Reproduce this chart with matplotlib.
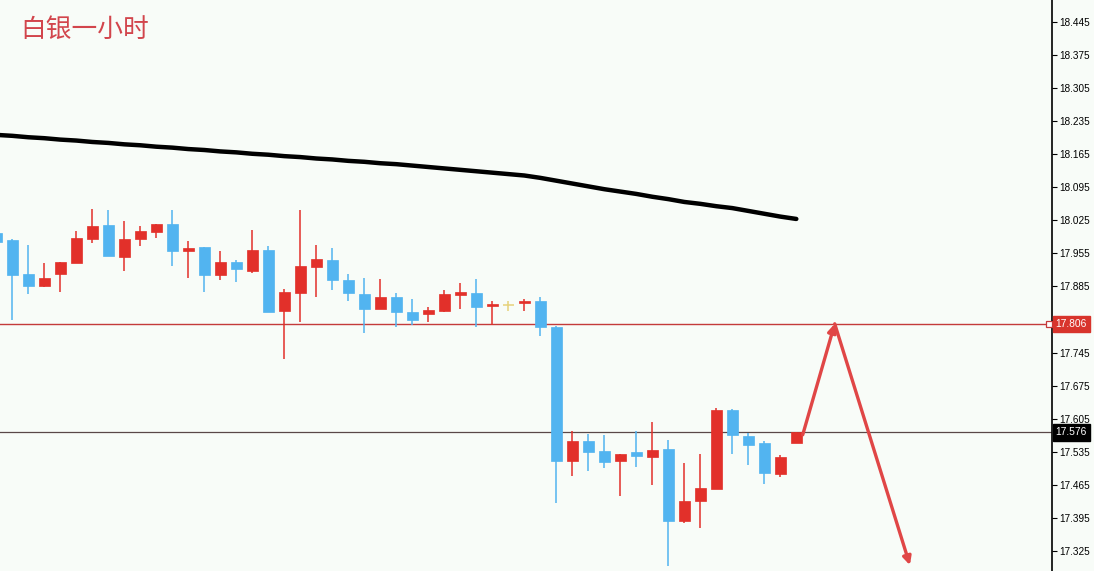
#!/usr/bin/env python3
"""
Silver 1h candles with MA, key levels and a forecast path.
"""
import numpy as np
import matplotlib.pyplot as plt
from matplotlib.patches import FancyArrowPatch
from matplotlib.transforms import blended_transform_factory

plt.rcParams['font.family'] = ['Noto Sans CJK SC', 'DejaVu Sans']

TITLE = "白银一小时"

# OHLC per hourly bar (index 0 is partly cut off on the left)
opens = [17.999, 17.983, 17.911, 17.885, 17.912, 17.935, 17.986, 18.016, 17.947, 17.986,
         18.001, 18.017, 17.960, 17.969, 17.910, 17.937, 17.918, 17.962, 17.834, 17.872,
         17.927, 17.941, 17.899, 17.869, 17.837, 17.863, 17.830, 17.827, 17.834, 17.866,
         17.871, 17.843, 17.845, 17.849, 17.855, 17.799, 17.516, 17.558, 17.537, 17.516,
         17.535, 17.525, 17.541, 17.389, 17.431, 17.456, 17.624, 17.568, 17.553, 17.487,
         17.554]
highs = [18.001, 17.986, 17.973, 17.935, 17.937, 18.003, 18.049, 18.046, 18.024, 18.013,
         18.017, 18.047, 17.981, 17.969, 17.961, 17.941, 18.005, 17.971, 17.879, 18.048,
         17.973, 17.966, 17.911, 17.904, 17.901, 17.871, 17.859, 17.841, 17.878, 17.893,
         17.901, 17.855, 17.854, 17.858, 17.862, 17.801, 17.579, 17.573, 17.571, 17.531,
         17.579, 17.599, 17.560, 17.512, 17.530, 17.627, 17.626, 17.575, 17.558, 17.528,
         17.576]
lows = [17.978, 17.813, 17.869, 17.883, 17.874, 17.934, 17.978, 17.950, 17.918, 17.971,
        17.988, 17.929, 17.902, 17.874, 17.899, 17.895, 17.913, 17.832, 17.731, 17.810,
        17.863, 17.878, 17.854, 17.786, 17.837, 17.799, 17.803, 17.810, 17.830, 17.837,
        17.800, 17.804, 17.834, 17.834, 17.781, 17.426, 17.484, 17.494, 17.501, 17.442,
        17.503, 17.465, 17.293, 17.385, 17.374, 17.456, 17.530, 17.506, 17.467, 17.482,
        17.554]
closes = [17.980, 17.910, 17.885, 17.902, 17.937, 17.988, 18.013, 17.950, 17.986, 18.003,
          18.017, 17.961, 17.967, 17.910, 17.937, 17.921, 17.962, 17.832, 17.873, 17.928,
          17.943, 17.899, 17.872, 17.838, 17.863, 17.832, 17.813, 17.835, 17.869, 17.873,
          17.842, 17.848, 17.845, 17.855, 17.799, 17.516, 17.558, 17.535, 17.514, 17.531,
          17.527, 17.539, 17.389, 17.431, 17.458, 17.624, 17.570, 17.550, 17.490, 17.524,
          17.576]

# moving average (black line)
ma = [18.206, 18.204, 18.201, 18.199, 18.196, 18.194, 18.191, 18.189, 18.186, 18.184,
      18.181, 18.179, 18.176, 18.174, 18.171, 18.169, 18.166, 18.164, 18.161, 18.159,
      18.156, 18.154, 18.151, 18.149, 18.146, 18.144, 18.141, 18.138, 18.135, 18.132,
      18.129, 18.126, 18.123, 18.120, 18.115, 18.109, 18.103, 18.097, 18.091, 18.086,
      18.081, 18.075, 18.070, 18.064, 18.060, 18.055, 18.051, 18.045, 18.039, 18.033,
      18.028]

resistance = 17.806
last_price = 17.576
yticks = [18.445, 18.375, 18.305, 18.235, 18.165, 18.095, 18.025, 17.955, 17.885,
          17.815, 17.745, 17.675, 17.605, 17.535, 17.465, 17.395, 17.325]

# forecast path drawn with arrows (bar index, price)
path_x = [50.4, 52.4, 57.1]
path_y = [17.571, 17.806, 17.295]

UP = "#e2302a"
DOWN = "#52b4f0"
DOJI = "#e6d27a"
BG = "#f8fcf8"
DOJI_BAR = 32

fig = plt.figure(figsize=(10.94, 5.71), dpi=100, facecolor=BG)
ax = fig.add_axes([0, 0, 1052 / 1094, 1])
ax.set_facecolor(BG)

x = np.arange(len(opens))
o, h, l, c = map(np.array, (opens, highs, lows, closes))
cols = [UP if cc >= oo else DOWN for oo, cc in zip(o, c)]
cols[DOJI_BAR] = DOJI

ax.vlines(x, l, h, colors=cols, linewidth=1.1, zorder=3)
body_lo = np.minimum(o, c)
body_h = np.maximum(np.abs(c - o), 0.0012)
for i in range(len(x)):
    if i == DOJI_BAR:
        ax.hlines(o[i], x[i] - 0.33, x[i] + 0.33, colors=DOJI, linewidth=1.1, zorder=3)
        continue
    ax.bar(x[i], body_h[i], bottom=body_lo[i], width=0.66, color=cols[i],
           edgecolor=cols[i], linewidth=0.5, zorder=4)

ax.plot(x, ma, color="black", linewidth=3.2, solid_capstyle="round", zorder=5)

ax.axhline(resistance, color="#c43a3a", linewidth=1.0, zorder=2)
ax.axhline(last_price, color="#5a4848", linewidth=0.9, zorder=2)

for i in range(len(path_x) - 1):
    ax.add_patch(FancyArrowPatch((path_x[i], path_y[i]), (path_x[i + 1], path_y[i + 1]),
                                 arrowstyle="-|>", mutation_scale=12, color="#e04646",
                                 linewidth=2.4, shrinkA=0, shrinkB=0, zorder=6))

ax.set_xlim(0.23, 65.98)
ax.set_ylim(17.2826, 18.4916)

# the 17.815 label sits under the 17.806 price box, so only its tick is drawn
ax.yaxis.tick_right()
ax.set_yticks(yticks)
ax.set_yticklabels(["" if abs(v - 17.815) < 1e-6 else f"{v:.3f}" for v in yticks])
ax.tick_params(axis="y", direction="out", length=3.5, width=0.8, pad=1.5,
               labelsize=7.2, colors="black")
for lab in ax.get_yticklabels():
    lab.set_family("Liberation Sans")
ax.set_xticks([])
for side in ("top", "left", "bottom"):
    ax.spines[side].set_visible(False)
ax.spines["right"].set_linewidth(1.2)

tr = blended_transform_factory(ax.transAxes, ax.transData)
ax.plot([0.997], [resistance], marker="s", markersize=4, markerfacecolor="white",
        markeredgecolor="#c43a3a", markeredgewidth=0.9, transform=tr, clip_on=False, zorder=7)
for val, bg in ((resistance, "#d8342c"), (last_price, "black")):
    ax.text(1.0035, val, f"{val:.3f}", transform=tr, ha="left", va="center",
            fontsize=7.4, family="Liberation Sans", color="white", zorder=8, clip_on=False,
            bbox=dict(boxstyle="square,pad=0.3", facecolor=bg, edgecolor=bg))

fig.text(20 / 1094, 1 - 31 / 571, TITLE, ha="left", va="center",
         fontsize=18.5, color="#d2454c")

plt.savefig("out.png", dpi=100, facecolor=BG)
